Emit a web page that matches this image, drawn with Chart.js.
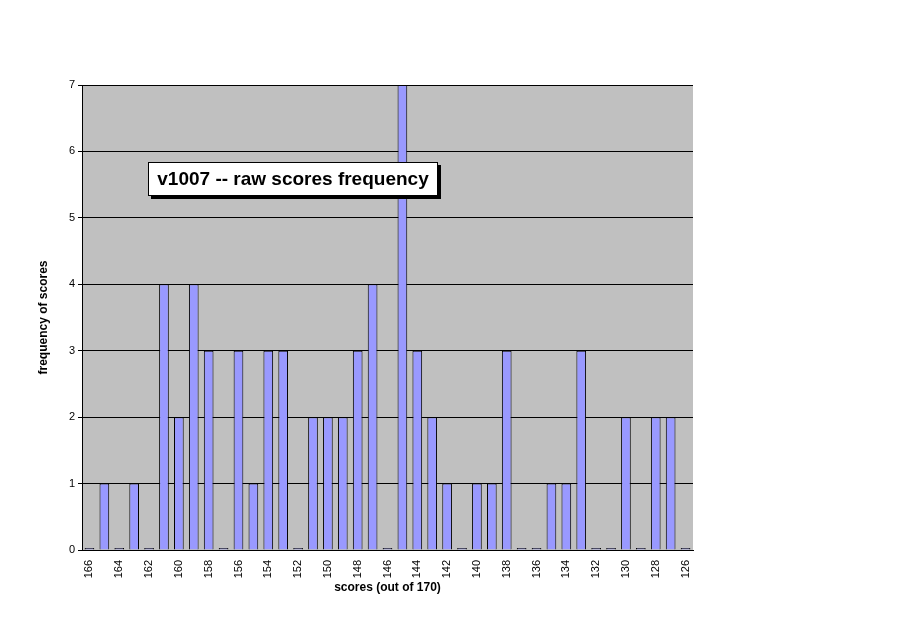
<!DOCTYPE html>
<html><head><meta charset="utf-8">
<script src="https://cdn.jsdelivr.net/npm/chart.js@4"></script>
<style>
body{margin:0;background:#fff;}
#wrap{position:relative;width:911px;height:623px;}
#ttl{position:absolute;left:148px;top:162px;width:288px;height:32px;background:#fff;border:1px solid #000;box-shadow:3px 3px 0 #000;font:bold 19px "Liberation Sans",Arial,sans-serif;line-height:32px;text-align:center;}
</style></head><body>
<div id="wrap"><canvas id="c" width="911" height="623"></canvas>
<div id="ttl">v1007 -- raw scores frequency</div></div>
<script>
const categories = [166,165,164,163,162,161,160,159,158,157,156,155,154,153,152,151,150,149,148,147,146,145,144,143,142,141,140,139,138,137,136,135,134,133,132,131,130,129,128,127,126].map(String);
const frequency = [0,1,0,1,0,4,2,4,3,0,3,1,3,3,0,2,2,2,3,4,0,7,3,2,1,0,1,1,3,0,0,1,1,3,0,0,2,0,2,2,0];
const yTicks = [0,1,2,3,4,5,6,7];
const bg = {id:'bg',beforeDraw(ch){const a=ch.chartArea,c=ch.ctx;c.save();c.fillStyle='#c0c0c0';c.fillRect(a.left,a.top,a.right-a.left,a.bottom-a.top);c.restore();}};
new Chart(document.getElementById('c'),{
 type:'bar',
 data:{labels:categories,datasets:[{data:frequency,backgroundColor:'#9999ff',borderColor:'#000',borderWidth:1,minBarLength:2,categoryPercentage:1,barPercentage:0.65}]},
 options:{responsive:false,animation:false,
  layout:{padding:{top:85,right:218,left:36,bottom:28}},
  plugins:{legend:{display:false},tooltip:{enabled:false}},
  scales:{
   x:{grid:{display:false},border:{color:'#000'},
      ticks:{color:'#000',autoSkip:false,maxRotation:90,minRotation:90,padding:2,font:{family:'Liberation Sans',size:11},callback:(v,i)=>i%2===0?categories[i]:''},
      title:{display:true,text:'scores (out of 170)',color:'#000',font:{family:'Liberation Sans',size:12,weight:'bold'},padding:0},
      afterFit(s){s.height=45;}},
   y:{min:0,max:7,grid:{color:'#000',tickLength:4},border:{color:'#000'},
      afterBuildTicks(s){s.ticks=yTicks.map(v=>({value:v}));},
      ticks:{color:'#000',font:{family:'Liberation Sans',size:11}},
      title:{display:true,text:'frequency of scores',color:'#000',font:{family:'Liberation Sans',size:12,weight:'bold'},padding:0},
      afterFit(s){s.width=46;}}
  }},
 plugins:[bg]});
</script></body></html>
